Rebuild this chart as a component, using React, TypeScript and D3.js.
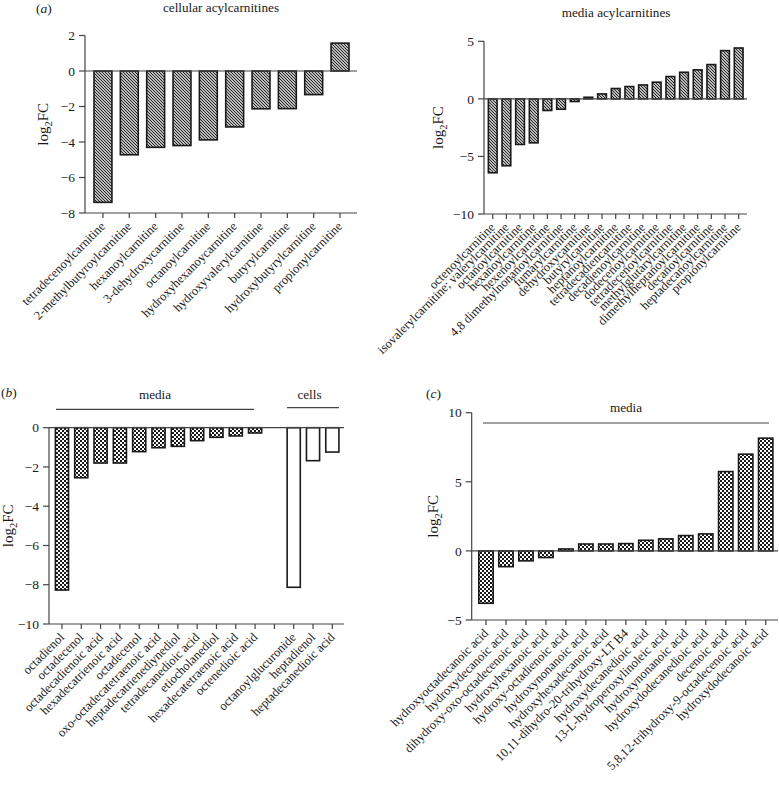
import React from 'react';
import * as d3 from 'd3';

const FONT = '"Liberation Serif", "DejaVu Serif", "Times New Roman", serif';
const INK = '#1a1a1a';
const AXIS = '#444';

// (a) cellular acylcarnitines
const cellAcylNames = [
  'tetradecenoylcarnitine', '2-methylbutyroylcarnitine', 'hexanoylcarnitine', '3-dehydroxycarnitine',
  'octanoylcarnitine', 'hydroxyhexanoycarnitine', 'hydroxyvalerylcarnitine', 'butyrylcarnitine',
  'hydroxybutyrylcarnitine', 'propionylcarnitine',
];
const cellAcylValues = [-7.4, -4.72, -4.3, -4.2, -3.88, -3.15, -2.13, -2.12, -1.33, 1.57];
const cellAcylTicks = [2, 0, -2, -4, -6, -8];

// (a) media acylcarnitines
const mediaAcylNames = [
  'octenoylcarnitine', 'isovalerylcarnitine; valerylcarnitine', 'octanoylcarnitine', 'hexanoylcarnitine',
  'hexenoylcarnitine', '4,8 dimethylnonanoylcarnitine', 'fumarylcarnitine', 'dehydroxycarnitine',
  'butyrylcarnitine', 'heptanoylcarnitine', 'tetradecadiencarnitine', 'decadienoylcarnitine',
  'dodecenoylcarnitine', 'tetradecenoylcarnitine', 'methylglutarylcarnitine', 'dimethylheptanoylcarnitine',
  'decanoylcarnitine', 'heptadecanoylcarnitine', 'propionylcarnitine',
];
const mediaAcylValues = [-6.42, -5.81, -3.96, -3.82, -1.01, -0.9, -0.23, 0.14, 0.43, 0.9, 1.07, 1.21, 1.45, 1.94, 2.31, 2.52, 2.98, 4.19, 4.42];
const mediaAcylTicks = [5, 0, -5, -10];

// (b) media and cells
const bMediaNames = [
  'octadienol', 'octadecenol', 'octadecadienoic acid', 'hexadecatrienoic acid', 'octadecenol',
  'oxo-octadecatetraenoic acid', 'heptadecatrienediynediol', 'tetradecanedioic acid', 'etiocholanediol',
  'hexadecatetraenoic acid', 'octenedioic acid',
];
const bMediaValues = [-8.27, -2.55, -1.8, -1.8, -1.22, -1.02, -0.95, -0.66, -0.49, -0.42, -0.27];
const bCellNames = ['octanoylglucuronide', 'heptadienol', 'heptadecanedioic acid'];
const bCellValues = [-8.13, -1.68, -1.24];
const bTicks = [0, -2, -4, -6, -8, -10];

// (c) media
const cNames = [
  'hydroxyoctadecanoic acid', 'hydroxydecanoic acid', 'dihydroxy-oxo-octadecenoic acid', 'hydroxyhexanoic acid',
  'hydroxy-octadienoic acid', 'hydroxynonanoic acid', 'hydroxyhexadecanoic acid', '10,11-dihydro-20-trihydroxy-LT B4',
  'hydroxydecanedioic acid', '13-L-hydroperoxylinoleic acid', 'hydroxynonanoic acid', 'hydroxydodecanedioic acid',
  'decenoic acid', '5,8,12-trihydroxy-9-octadecenoic acid', 'hydroxydodecanoic acid',
];
const cValues = [-3.79, -1.14, -0.72, -0.48, 0.14, 0.5, 0.5, 0.53, 0.77, 0.87, 1.11, 1.23, 5.74, 7.0, 8.16];
const cTicks = [10, 5, 0, -5];

type Bar = { key: string; name: string; value: number | null; fill: string };

interface PanelProps {
  bars: Bar[];
  bandRange: [number, number];
  padding: number;
  axisX: [number, number];
  yDomain: [number, number];
  yRange: [number, number];
  ticks: number[];
  yLabelX: number;
}

function YLabel({ x, y }: { x: number; y: number }) {
  return (
    <text transform={`translate(${x},${y}) rotate(-90)`} textAnchor="middle" fontSize={15} fill={INK} fontFamily={FONT}>
      log<tspan fontSize={10.5} dy={4}>2</tspan><tspan dy={-4}>FC</tspan>
    </text>
  );
}

function Panel({ bars, bandRange, padding, axisX, yDomain, yRange, ticks, yLabelX }: PanelProps) {
  const x = d3.scaleBand<string>().domain(bars.map((b) => b.key)).range(bandRange).paddingInner(padding).paddingOuter(padding / 2);
  const y = d3.scaleLinear().domain(yDomain).range(yRange);
  const fmt = d3.format('d');
  const yBottom = y(yDomain[0]);
  const yTop = y(yDomain[1]);
  const bw = x.bandwidth();
  return (
    <g>
      {bars.map((b) =>
        b.value === null ? null : (
          <rect
            key={'r' + b.key}
            x={x(b.key)!}
            y={Math.min(y(0), y(b.value))}
            width={bw}
            height={Math.max(1, Math.abs(y(b.value) - y(0)))}
            fill={b.fill}
            stroke={INK}
            strokeWidth={1.6}
          />
        )
      )}
      <line x1={axisX[0]} x2={axisX[0]} y1={yTop} y2={yBottom} stroke={AXIS} strokeWidth={1.2} />
      <line x1={axisX[0]} x2={axisX[1]} y1={yBottom} y2={yBottom} stroke={AXIS} strokeWidth={1.2} />
      <line x1={axisX[0]} x2={axisX[1]} y1={y(0)} y2={y(0)} stroke={AXIS} strokeWidth={1.2} />
      {ticks.map((t) => (
        <g key={'t' + t}>
          <line x1={axisX[0] - 6} x2={axisX[0]} y1={y(t)} y2={y(t)} stroke={AXIS} strokeWidth={1.2} />
          <text x={axisX[0] - 10} y={y(t)} dy="0.35em" textAnchor="end" fontSize={13.5} fill={INK} fontFamily={FONT}>
            {fmt(t)}
          </text>
        </g>
      ))}
      {bars.map((b) => {
        const cx = x(b.key)! + bw / 2;
        return (
          <g key={'x' + b.key}>
            <line x1={cx} x2={cx} y1={yBottom} y2={yBottom + 5} stroke={AXIS} strokeWidth={1.2} />
            <text
              transform={`translate(${cx + 3},${yBottom + 14}) rotate(-45)`}
              textAnchor="end"
              fontSize={12.6}
              fill={INK}
              fontFamily={FONT}
            >
              {b.name}
            </text>
          </g>
        );
      })}
      <YLabel x={yLabelX} y={(yTop + yBottom) / 2} />
    </g>
  );
}

function PanelLetter({ x, y, letter }: { x: number; y: number; letter: string }) {
  return (
    <text x={x} y={y} fontSize={13.5} fill={INK} fontFamily={FONT}>
      (<tspan fontStyle="italic">{letter}</tspan>)
    </text>
  );
}

export default function App() {
  const cellBars: Bar[] = cellAcylNames.map((n, i) => ({ key: 'c' + i, name: n, value: cellAcylValues[i], fill: 'url(#hatch)' }));
  const mediaBars: Bar[] = mediaAcylNames.map((n, i) => ({ key: 'm' + i, name: n, value: mediaAcylValues[i], fill: 'url(#hatch)' }));
  const bBars: Bar[] = [
    ...bMediaNames.map((n, i) => ({ key: 'bm' + i, name: n, value: bMediaValues[i], fill: 'url(#checker)' })),
    { key: 'gap', name: '', value: null, fill: 'none' },
    ...bCellNames.map((n, i) => ({ key: 'bc' + i, name: n, value: bCellValues[i], fill: '#fff' })),
  ];
  const cBars: Bar[] = cNames.map((n, i) => ({ key: 'cc' + i, name: n, value: cValues[i], fill: 'url(#checker)' }));

  return (
    <svg width={779} height={786} style={{ position: 'absolute', left: 0, top: 0, background: '#fff' }}>
      <defs>
        <pattern id="hatch" patternUnits="userSpaceOnUse" width={3} height={3}>
          <rect width={3} height={3} fill="#fff" />
          <path d="M-1,-1 L4,4 M-1,2 L1,4 M2,-1 L4,1" stroke="#1a1a1a" strokeWidth={1.1} />
        </pattern>
        <pattern id="checker" patternUnits="userSpaceOnUse" width={4} height={4}>
          <rect width={4} height={4} fill="#fff" />
          <rect x={0} y={0} width={2} height={2} fill="#1a1a1a" />
          <rect x={2} y={2} width={2} height={2} fill="#1a1a1a" />
        </pattern>
      </defs>
      <rect width={779} height={786} fill="#fff" />

      {/* (a) */}
      <PanelLetter x={36} y={13} letter="a" />
      <text x={221} y={12} textAnchor="middle" fontSize={13.2} fill={INK} fontFamily={FONT}>cellular acylcarnitines</text>
      <Panel
        bars={cellBars}
        bandRange={[89.8, 353.2]}
        padding={0.32}
        axisX={[85, 357]}
        yDomain={[-8, 2]}
        yRange={[213, 35.5]}
        ticks={cellAcylTicks}
        yLabelX={48}
      />
      <text x={616} y={17} textAnchor="middle" fontSize={13.2} fill={INK} fontFamily={FONT}>media acylcarnitines</text>
      <Panel
        bars={mediaBars}
        bandRange={[485.9, 745.5]}
        padding={0.36}
        axisX={[484, 747]}
        yDomain={[-10, 5]}
        yRange={[214, 41.3]}
        ticks={mediaAcylTicks}
        yLabelX={443}
      />

      {/* (b) */}
      <PanelLetter x={1} y={397} letter="b" />
      <text x={155} y={399} textAnchor="middle" fontSize={13.2} fill={INK} fontFamily={FONT}>media</text>
      <line x1={56} x2={254} y1={409.3} y2={409.3} stroke={AXIS} strokeWidth={1.2} />
      <text x={309.5} y={399} textAnchor="middle" fontSize={13.2} fill={INK} fontFamily={FONT}>cells</text>
      <line x1={287} x2={339} y1={407.7} y2={407.7} stroke={AXIS} strokeWidth={1.2} />
      <Panel
        bars={bBars}
        bandRange={[52.3, 342]}
        padding={0.32}
        axisX={[49, 344]}
        yDomain={[-10, 0]}
        yRange={[624, 427.7]}
        ticks={bTicks}
        yLabelX={13}
      />

      {/* (c) */}
      <PanelLetter x={426} y={398} letter="c" />
      <text x={626} y={412} textAnchor="middle" fontSize={13.2} fill={INK} fontFamily={FONT}>media</text>
      <line x1={483} x2={769} y1={423} y2={423} stroke={AXIS} strokeWidth={1.2} />
      <Panel
        bars={cBars}
        bandRange={[476, 775.7]}
        padding={0.28}
        axisX={[471.7, 778]}
        yDomain={[-5, 10]}
        yRange={[620, 412.7]}
        ticks={cTicks}
        yLabelX={438}
      />
    </svg>
  );
}
